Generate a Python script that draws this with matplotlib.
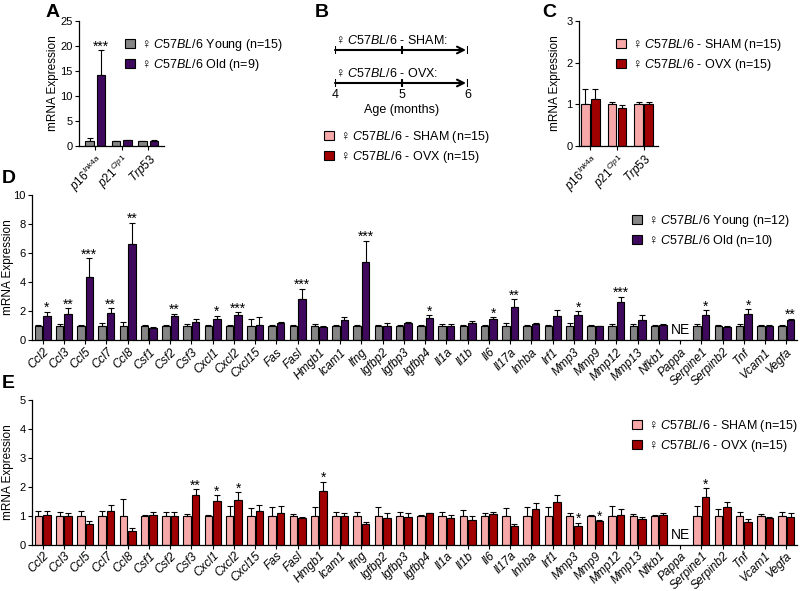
import numpy as np
import matplotlib
matplotlib.use('Agg')
import matplotlib.pyplot as plt
from matplotlib.patches import Patch

plt.rcParams['font.family'] = ['Liberation Sans', 'DejaVu Sans']
plt.rcParams['mathtext.fontset'] = 'custom'
plt.rcParams['mathtext.rm'] = 'Liberation Sans'
plt.rcParams['mathtext.it'] = 'Liberation Sans:italic'
plt.rcParams['axes.linewidth'] = 0.9

# cores
GREY = '#858585'
PURPLE = '#3f0a5e'
PINK = '#f7a8a8'
DARKRED = '#a00000'

# Painel A / C
genes_ac = [r'$\it{p16}^{\it{Ink4a}}$', r'$\it{p21}^{\it{Cip1}}$', r'$\it{Trp53}$']
a_young = [1.0, 1.0, 1.0]
a_young_err = [0.6, 0.05, 0.05]
a_old = [14.2, 1.2, 1.1]
a_old_err = [5.0, 0.06, 0.05]
a_sig = ['***', '', '']

c_sham = [1.0, 1.0, 1.0]
c_sham_err = [0.37, 0.06, 0.05]
c_ovx = [1.13, 0.92, 1.0]
c_ovx_err = [0.23, 0.07, 0.05]
c_sig = ['', '', '']

# Painel B (linha do tempo)
idade = [4, 5, 6]

# Painéis D / E
genes = ['Ccl2', 'Ccl3', 'Ccl5', 'Ccl7', 'Ccl8', 'Csf1', 'Csf2', 'Csf3', 'Cxcl1', 'Cxcl2',
         'Cxcl15', 'Fas', 'Fasl', 'Hmgb1', 'Icam1', 'Ifng', 'Igfbp2', 'Igfbp3', 'Igfbp4',
         'Il1a', 'Il1b', 'Il6', 'Il17a', 'Inhba', 'Irf1', 'Mmp3', 'Mmp9', 'Mmp12', 'Mmp13',
         'Nfkb1', 'Pappa', 'Serpine1', 'Serpinb2', 'Tnf', 'Vcam1', 'Vegfa']
nan = np.nan
d_young = [1.0, 1.0, 1.0, 1.0, 1.0, 1.0, 1.0, 1.0, 1.0, 1.0,
           1.0, 1.0, 1.0, 1.0, 1.0, 1.0, 1.0, 1.0, 1.0,
           1.0, 1.0, 1.0, 1.0, 1.0, 1.0, 1.0, 1.0, 1.0, 1.0,
           1.0, nan, 1.0, 1.0, 1.0, 1.0, 1.0]
d_young_err = [0.05, 0.08, 0.03, 0.15, 0.25, 0.05, 0.05, 0.07, 0.05, 0.03,
               0.45, 0.03, 0.03, 0.07, 0.03, 0.05, 0.05, 0.05, 0.03,
               0.07, 0.03, 0.03, 0.15, 0.05, 0.03, 0.15, 0.05, 0.1, 0.1,
               0.03, nan, 0.08, 0.03, 0.1, 0.03, 0.03]
d_old = [1.65, 1.8, 4.35, 1.85, 6.6, 0.85, 1.65, 1.25, 1.42, 1.72,
         1.05, 1.15, 2.85, 0.9, 1.35, 5.35, 1.0, 1.15, 1.5,
         1.0, 1.15, 1.42, 2.3, 1.1, 1.65, 1.7, 0.95, 2.65, 1.4,
         1.05, nan, 1.7, 0.9, 1.8, 1.0, 1.35]
d_old_err = [0.3, 0.38, 1.3, 0.33, 1.5, 0.05, 0.17, 0.2, 0.25, 0.2,
             0.55, 0.08, 0.7, 0.07, 0.27, 1.5, 0.2, 0.12, 0.2,
             0.07, 0.15, 0.17, 0.5, 0.1, 0.45, 0.3, 0.05, 0.35, 0.35,
             0.07, nan, 0.35, 0.05, 0.35, 0.05, 0.12]
d_sig = ['*', '**', '***', '**', '**', '', '**', '', '*', '***',
         '', '', '***', '', '', '***', '', '', '*',
         '', '', '*', '**', '', '', '*', '', '***', '',
         '', '', '*', '', '*', '', '**']

e_sham = d_young
e_sham_err = [0.18, 0.14, 0.18, 0.18, 0.6, 0.03, 0.13, 0.08, 0.05, 0.33,
              0.28, 0.3, 0.08, 0.3, 0.13, 0.15, 0.3, 0.14, 0.03,
              0.14, 0.2, 0.1, 0.27, 0.3, 0.3, 0.1, 0.03, 0.35, 0.07,
              0.02, nan, 0.35, 0.25, 0.15, 0.08, 0.15]
e_ovx = [1.03, 1.0, 0.72, 1.18, 0.48, 1.02, 1.0, 1.72, 1.52, 1.55,
         1.18, 1.12, 0.92, 1.85, 1.0, 0.73, 0.92, 0.96, 1.1,
         0.92, 0.85, 1.07, 0.65, 1.25, 1.48, 0.65, 0.83, 1.05, 0.9,
         1.03, nan, 1.65, 1.3, 0.8, 0.93, 0.95]
e_ovx_err = [0.13, 0.1, 0.12, 0.2, 0.1, 0.13, 0.15, 0.2, 0.2, 0.28,
             0.2, 0.22, 0.05, 0.33, 0.12, 0.07, 0.2, 0.14, 0.02,
             0.12, 0.14, 0.07, 0.08, 0.2, 0.25, 0.12, 0.03, 0.2, 0.08,
             0.06, nan, 0.3, 0.2, 0.1, 0.03, 0.15]
e_sig = ['', '', '', '', '', '', '', '**', '*', '*',
         '', '', '', '*', '', '', '', '', '',
         '', '', '', '', '', '', '*', '*', '', '',
         '', '', '*', '', '', '', '']

fig = plt.figure(figsize=(8, 5.91), dpi=100)


# eixos posicionados em pixels da figura
def eixo_px(esq, dir_, topo, base):
    return fig.add_axes([esq / 800, 1 - base / 591, (dir_ - esq) / 800, (base - topo) / 591])


def barras(ax, labels, m1, e1, m2, e2, c1, c2, sig, w, off, fs_tick, largura_px):
    x = np.arange(len(labels))
    m1 = np.array(m1, dtype=float); e1 = np.array(e1, dtype=float)
    m2 = np.array(m2, dtype=float); e2 = np.array(e2, dtype=float)
    for xs, m, e, c in [(x - off, m1, e1, c1), (x + off, m2, e2, c2)]:
        ok = ~np.isnan(m)
        ax.bar(xs[ok], m[ok], w, color=c, edgecolor='black', linewidth=0.8, zorder=2)
        ax.errorbar(xs[ok], m[ok], yerr=[np.zeros(ok.sum()), e[ok]], fmt='none', ecolor='black',
                    elinewidth=0.8, capsize=2, capthick=0.8, zorder=1)
    for xi, s, top in zip(x + off, sig, m2 + e2):
        if s:
            ax.annotate(s, (xi, top), xytext=(0, -2.5), textcoords='offset points',
                        ha='center', va='bottom', fontsize=10)
    ax.set_xticks(x)
    ax.set_xticklabels(labels, rotation=45, ha='right', rotation_mode='anchor',
                       style='italic', fontsize=fs_tick)
    ax.spines['top'].set_visible(False)
    ax.spines['right'].set_visible(False)
    ax.tick_params(direction='out', length=3, width=0.8)
    ax.tick_params(axis='y', labelsize=8, pad=1.5)
    ax.tick_params(axis='x', pad=1.5)
    ax.set_ylabel('mRNA Expression', fontsize=8.5)
    ax.yaxis.set_label_coords(-18 / largura_px, 0.5)


def legenda(cores, textos, x, y):
    hs = [Patch(facecolor=c, edgecolor='black', linewidth=0.8) for c in cores]
    fig.legend(hs, textos, loc='upper left', bbox_to_anchor=(x / 800, 1 - y / 591),
               frameon=False, fontsize=9, handlelength=0.8, handleheight=0.8,
               handletextpad=0.5, labelspacing=0.3, borderpad=0, borderaxespad=0)


lab_young15 = r'♀ $\it{C57BL/6}$ Young (n=15)'
lab_old9 = r'♀ $\it{C57BL/6}$ Old (n=9)'
lab_sham = r'♀ $\it{C57BL/6}$ - SHAM (n=15)'
lab_ovx = r'♀ $\it{C57BL/6}$ - OVX (n=15)'

# A
ax_a = eixo_px(79, 164, 21, 146)
barras(ax_a, genes_ac, a_young, a_young_err, a_old, a_old_err, GREY, PURPLE, a_sig, 0.32, 0.22, 8.5, 85)
ax_a.set_xlim(-0.62, 2.6)
ax_a.set_ylim(0, 25)
ax_a.set_yticks([0, 5, 10, 15, 20, 25])
ax_a.yaxis.set_label_coords(-20 / 85, 0.5)
legenda([GREY, PURPLE], [lab_young15, lab_old9], 125, 37)

# C
ax_c = eixo_px(579, 658, 21, 146)
barras(ax_c, genes_ac, c_sham, c_sham_err, c_ovx, c_ovx_err, PINK, DARKRED, c_sig, 0.33, 0.19, 8.5, 79)
ax_c.set_xlim(-0.43, 2.54)
ax_c.set_ylim(0, 3)
ax_c.set_yticks([0, 1, 2, 3])
legenda([PINK, DARKRED], [lab_sham, lab_ovx], 616, 37)

# B - linha do tempo
ax_b = eixo_px(335, 468, 30, 125)
ax_b.set_xlim(idade[0], idade[-1])
ax_b.set_ylim(125, 30)
ax_b.axis('off')
for yl, grupo in [(50, 'SHAM:'), (83, 'OVX:')]:
    ax_b.annotate('', xy=(idade[-1] - 0.03, yl), xytext=(idade[0], yl),
                  arrowprops=dict(arrowstyle='->', lw=1.5, color='black',
                                  shrinkA=0, shrinkB=0, mutation_scale=12))
    ax_b.vlines(idade, yl - 4, yl + 4, color='black', lw=1.5)
    ax_b.text(idade[0], yl - 3, r'♀ $\it{C57BL/6}$ - ' + grupo, ha='left', va='bottom', fontsize=9)
for v in idade:
    ax_b.text(v, 95, str(v), ha='center', va='center', fontsize=9)
ax_b.text(idade[1], 110, 'Age (months)', ha='center', va='center', fontsize=9)
legenda([PINK, DARKRED], [lab_sham, lab_ovx], 324, 129)

# D
ax_d = eixo_px(32, 797, 195, 340)
barras(ax_d, genes, d_young, d_young_err, d_old, d_old_err, GREY, PURPLE, d_sig, 0.35, 0.2, 8.6, 765)
ax_d.set_xlim(-0.5, len(genes) - 0.5)
ax_d.set_ylim(0, 10)
ax_d.set_yticks([0, 2, 4, 6, 8, 10])
ax_d.annotate('NE', (genes.index('Pappa'), 0), xytext=(0, 2), textcoords='offset points',
              ha='center', va='bottom', fontsize=10)
legenda([GREY, PURPLE], [r'♀ $\it{C57BL/6}$ Young (n=12)', r'♀ $\it{C57BL/6}$ Old (n=10)'], 632, 213)

# E
ax_e = eixo_px(32, 797, 400, 545)
barras(ax_e, genes, e_sham, e_sham_err, e_ovx, e_ovx_err, PINK, DARKRED, e_sig, 0.35, 0.2, 8.6, 765)
ax_e.tick_params(axis='x', pad=0.5)
ax_e.set_xlim(-0.5, len(genes) - 0.5)
ax_e.set_ylim(0, 5)
ax_e.set_yticks([0, 1, 2, 3, 4, 5])
ax_e.annotate('NE', (genes.index('Pappa'), 0), xytext=(0, 2), textcoords='offset points',
              ha='center', va='bottom', fontsize=10)
legenda([PINK, DARKRED], [lab_sham, lab_ovx], 632, 418)

# letras dos painéis
for letra, x, y in [('A', 46, 4), ('B', 315, 4), ('C', 542, 4), ('D', 2, 170), ('E', 2, 375)]:
    fig.text(x / 800, 1 - y / 591, letra, fontsize=14, fontweight='bold', ha='left', va='top')

fig.savefig('out.png', dpi=100)
